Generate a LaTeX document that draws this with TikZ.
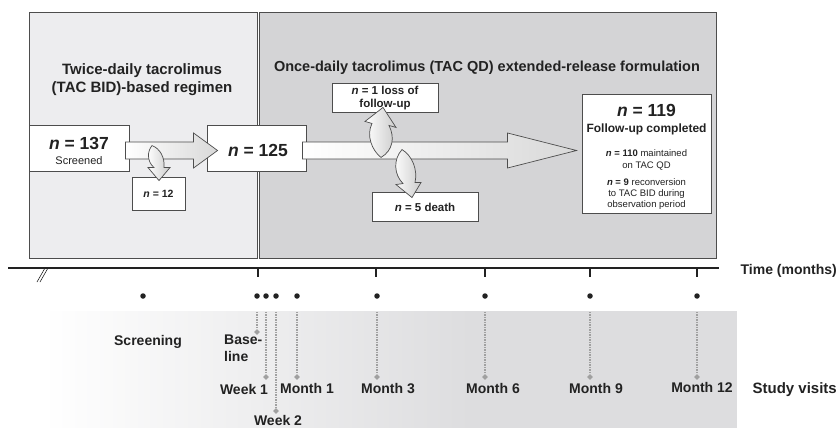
\documentclass[tikz,border=0pt]{standalone}
\usepackage{fontspec}
\setmainfont{Liberation Sans}
\usetikzlibrary{calc,shapes.geometric}
\definecolor{ink}{HTML}{222222}
\definecolor{edgec}{HTML}{4D4D4D}
\definecolor{panelA}{HTML}{EDEDEF}
\definecolor{panelB}{HTML}{D4D4D6}
\definecolor{bandR}{HTML}{DDDDDF}
\definecolor{dotc}{HTML}{A0A0A0}
\newcommand{\fsz}[1]{\fontsize{#1pt}{#1pt}\selectfont}
\newcommand{\blockarrow}[3]{%
  \path[barrow] ($(#1)+(0,-8.5)$) -- ($(#2)+(-#3,-8.5)$) -- ($(#2)+(-#3,-17.5)$) -- (#2)
    -- ($(#2)+(-#3,17.5)$) -- ($(#2)+(-#3,8.5)$) -- ($(#1)+(0,8.5)$) -- cycle;}
\begin{document}
\begin{tikzpicture}[x=1pt,y=-1pt,
  every node/.style={text=ink, inner sep=0pt},
  box/.style={draw=edgec, fill=white, line width=0.9pt},
  txt/.style={anchor=base},
  barrow/.style={draw=edgec, line width=0.7pt, left color=white, right color=gray!30},
  carrow/.style={draw=edgec, line width=0.7pt, left color=white, right color=gray!40},
  visit/.style={circle, fill=ink, inner sep=0pt, minimum size=5.5pt},
  vline/.style={dotc, line width=1.4pt, dash pattern=on 1.3pt off 1.2pt, shorten <=13pt},
  dmark/.style={diamond, fill=dotc, inner sep=0pt, minimum size=6pt},
  lbl/.style={anchor=base, font=\fsz{14}\bfseries}
]
\useasboundingbox (0,0) rectangle (838,428);
\fill[white] (0,0) rectangle (838,428);

% panels
\draw[edgec, line width=1pt, fill=panelA] (29,13) rectangle (257,258);
\draw[edgec, line width=1pt, fill=panelB] (259,13) rectangle (716,258);

% titles
\node[txt, font=\fsz{15}\bfseries] (tl1) at (142,74.4) {Twice-daily tacrolimus};
\node[txt, font=\fsz{15}\bfseries] (tl2) at (142,92.4) {(TAC BID)-based regimen};
\node[txt, font=\fsz{14.5}\bfseries] (tr) at (487,71) {Once-daily tacrolimus (TAC QD) extended-release formulation};

% boxes
\node[box, minimum width=100pt, minimum height=46pt] (n137) at (79,148) {};
\node[box, minimum width=99pt, minimum height=46pt] (n125) at (256.5,148) {};
\node[box, minimum width=53pt, minimum height=33pt] (n12) at (158.5,193.5) {};
\node[box, minimum width=106pt, minimum height=29pt] (nloss) at (385,97.5) {};
\node[box, minimum width=106pt, minimum height=29pt] (ndeath) at (425,206.5) {};
\node[box, minimum width=129pt, minimum height=119pt] (n119) at (646.5,153.5) {};

% straight block arrows
\coordinate (a1s) at ($(n137.east)+(-4,2.5)$);
\coordinate (a1t) at ($(n125.west)+(11,2.5)$);
\blockarrow{a1s}{a1t}{24}
\coordinate (a2s) at ($(n125.east)+(-4,2.5)$);
\coordinate (a2t) at ($(n119.west |- a2s)+(-5,0)$);
\blockarrow{a2s}{a2t}{69}

% curved arrows
\begin{scope}[shift={(n12.north)}]
  \path[carrow] (-6.5,-31) .. controls (-11.5,-25) and (-11.5,-15) .. (-4.5,-9) -- (-10.5,-9) -- (0.5,4)
    -- (11.5,-9) -- (5.5,-9) .. controls (6.5,-19) and (1.5,-28) .. (-6.5,-31) -- cycle;
\end{scope}
\begin{scope}[shift={(nloss.south)}]
  \path[carrow] (-13,11) -- (-20,9) -- (-2,-5) -- (11,15) -- (4,13)
    .. controls (10,25) and (8,38) .. (-4,45) .. controls (-13,38) and (-19,23) .. (-13,11) -- cycle;
\end{scope}
\begin{scope}[shift={(ndeath.north)}]
  \path[carrow] (-23,-42) .. controls (-32,-32) and (-31,-17) .. (-22,-8) -- (-29,-7) -- (-13,6)
    -- (-4,-9) -- (-10,-9) .. controls (-7,-22) and (-13,-36) .. (-23,-42) -- cycle;
\end{scope}

% box texts
\node[txt, font=\fsz{17.5}\bfseries] (t137) at (79,149) {\textit{n} = 137};
\node[txt, font=\fsz{11}] (t137b) at (79,164) {Screened};
\node[txt, font=\fsz{17.5}\bfseries] (t125) at (258,156) {\textit{n} = 125};
\node[txt, font=\fsz{10.5}\bfseries] (t12) at (158.5,197) {\textit{n} = 12};
\node[txt, font=\fsz{11.5}\bfseries] (tloss1) at (385,95) {\textit{n} = 1 loss of};
\node[txt, font=\fsz{11.5}\bfseries] (tloss2) at (385,107) {follow-up};
\node[txt, font=\fsz{11.5}\bfseries] (tdeath) at (425,211) {\textit{n} = 5 death};
\node[txt, font=\fsz{17.5}\bfseries] (t119a) at (646.5,116) {\textit{n} = 119};
\node[txt, font=\fsz{12}\bfseries] (t119b) at (646.5,132.3) {Follow-up completed};
\node[txt, font=\fsz{9.5}] (t119c) at (646.5,156.4) {\textbf{\textit{n} = 110} maintained};
\node[txt, font=\fsz{9.5}] (t119d) at (646.5,168.4) {on TAC QD};
\node[txt, font=\fsz{9.5}] (t119e) at (646.5,185.4) {\textbf{\textit{n} = 9} reconversion};
\node[txt, font=\fsz{9.5}] (t119f) at (646.5,196.4) {to TAC BID during};
\node[txt, font=\fsz{9.5}] (t119g) at (646.5,207.4) {observation period};

% study visits band
\shade[left color=white, right color=bandR] (43,311) rectangle (470.5,428);
\fill[bandR] (470,311) rectangle (737,428);

% time axis
\draw[ink, line width=2pt] (8,268) -- (719,268);
\foreach \x in {258,376,485,590,697} \draw[ink, line width=2.5pt] (\x,268) -- (\x,277);
\draw[ink, line width=0.6pt] (37,282) -- (45,268) (40,282) -- (48,268);
\node[anchor=base east, font=\fsz{14}\bfseries] (tax) at (837,274) {Time (months)};

% visit dots
\node[visit] (d0) at (143,296) {};
\node[visit] (d1) at (257,296) {};
\node[visit] (d2) at (266,296) {};
\node[visit] (d3) at (276,296) {};
\node[visit] (d4) at (297,296) {};
\node[visit] (d5) at (377,296) {};
\node[visit] (d6) at (485,296) {};
\node[visit] (d7) at (590,296) {};
\node[visit] (d8) at (697,296) {};

% markers
\node[dmark] (m1) at (257,332) {};
\node[dmark] (m2) at (266,377) {};
\node[dmark] (m3) at (276,411) {};
\node[dmark] (m4) at (297,377) {};
\node[dmark] (m5) at (377,377) {};
\node[dmark] (m6) at (485,377) {};
\node[dmark] (m7) at (590,377) {};
\node[dmark] (m8) at (697,377) {};
\foreach \i in {1,...,8} \draw[vline] (d\i) -- (m\i);

% visit labels
\node[lbl] (l0) at (148,345) {Screening};
\node[lbl, anchor=base west] (l1a) at (224,344) {Base-};
\node[lbl, anchor=base west] (l1b) at (224,361) {line};
\node[lbl] (l2) at (244,394) {Week 1};
\node[lbl] (l3) at (278,425) {Week 2};
\node[lbl] (l4) at (307,393) {Month 1};
\node[lbl] (l5) at (388,393) {Month 3};
\node[lbl] (l6) at (493,393) {Month 6};
\node[lbl] (l7) at (596,393) {Month 9};
\node[lbl] (l8) at (702,392) {Month 12};
\node[anchor=base east, font=\fsz{15}\bfseries] (lsv) at (837,393.5) {Study visits};
\end{tikzpicture}
\end{document}
